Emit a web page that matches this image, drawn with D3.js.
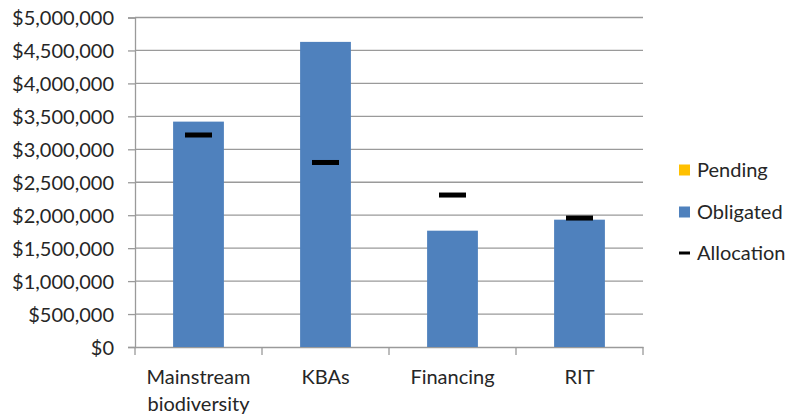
<!DOCTYPE html>
<html><head><meta charset="utf-8">
<script src="https://cdn.jsdelivr.net/npm/d3@7"></script>
<style>body{margin:0;background:#fff}svg{display:block}text{font-family:Lato,"Open Sans",sans-serif;fill:#262626}</style>
</head><body><svg id="c" width="792" height="415"></svg>
<script>
const categories = ["Mainstream biodiversity", "KBAs", "Financing", "RIT"];
const obligated = [3420000, 4630000, 1765000, 1932000];
const pending = [0, 0, 0, 0];
const allocation = [3217000, 2800000, 2306000, 1957000];
const yTicks = [0, 500000, 1000000, 1500000, 2000000, 2500000, 3000000, 3500000, 4000000, 4500000, 5000000];
const legendItems = ["Pending", "Obligated", "Allocation"];

const svg = d3.select("#c");
const L = 135, R = 643, T = 17.5, B = 347;
const FS = "20px";
const x = d3.scaleBand().domain(categories).range([L, R]).padding(0);
const y = d3.scaleLinear().domain([0, 5000000]).range([B, T]);
const fmt = v => "$" + d3.format(",")(v);

// gridlines
svg.append("g").selectAll("line").data(yTicks.slice(1)).join("line")
  .attr("x1", L).attr("x2", R).attr("y1", d => y(d)).attr("y2", d => y(d))
  .attr("stroke", "#9a9a9a").attr("stroke-width", 1.3);

// y axis
const ya = svg.append("g").attr("transform", `translate(${L},0)`)
  .call(d3.axisLeft(y).tickValues(yTicks).tickFormat(fmt).tickSize(7).tickPadding(14));
ya.select(".domain").attr("stroke", "#9a9a9a").attr("stroke-width", 1.3);
ya.selectAll(".tick line").attr("stroke", "#9a9a9a").attr("stroke-width", 1.3);
ya.selectAll("text").style("font-size", FS).attr("fill", "#262626").attr("dy", "0.36em");

// x axis
const xa = svg.append("g").attr("transform", `translate(0,${B})`)
  .call(d3.axisBottom(x).tickSize(0).tickFormat(""));
xa.select(".domain").attr("stroke", "#9a9a9a").attr("stroke-width", 1.3);
svg.append("g").selectAll("line").data(d3.range(categories.length + 1)).join("line")
  .attr("x1", i => L + i * x.step()).attr("x2", i => L + i * x.step())
  .attr("y1", B).attr("y2", B + 8).attr("stroke", "#9a9a9a").attr("stroke-width", 1.3);
const labels = svg.append("g").selectAll("text").data(categories).join("text")
  .attr("x", d => x(d) + x.bandwidth() / 2).attr("y", 384)
  .attr("text-anchor", "middle").style("font-size", FS);
labels.each(function(d) {
  const words = d.split(" ");
  const t = d3.select(this);
  words.forEach((w, i) => t.append("tspan").attr("x", x(d) + x.bandwidth() / 2).attr("dy", i ? 27 : 0).text(w));
});

// bars
const bw = x.bandwidth() * 0.4;
svg.append("g").selectAll("rect").data(categories).join("rect")
  .attr("x", d => x(d) + (x.bandwidth() - bw) / 2)
  .attr("width", bw)
  .attr("y", (d, i) => y(obligated[i]))
  .attr("height", (d, i) => B - y(obligated[i]))
  .attr("fill", "#4f81bd");
svg.append("g").selectAll("rect").data(categories).join("rect")
  .attr("x", d => x(d) + (x.bandwidth() - bw) / 2)
  .attr("width", bw)
  .attr("y", (d, i) => y(obligated[i] + pending[i]))
  .attr("height", (d, i) => y(obligated[i]) - y(obligated[i] + pending[i]))
  .attr("fill", "#ffc000");

// allocation markers
const mw = 27;
svg.append("g").selectAll("rect").data(categories).join("rect")
  .attr("x", d => x(d) + (x.bandwidth() - mw) / 2)
  .attr("width", mw)
  .attr("y", (d, i) => y(allocation[i]) - 2.5)
  .attr("height", 5)
  .attr("fill", "#000");

// legend
const lg = svg.append("g");
const ly = [170, 212, 253];
lg.append("rect").attr("x", 679).attr("y", ly[0] - 5.5).attr("width", 11).attr("height", 11).attr("fill", "#ffc000");
lg.append("rect").attr("x", 679).attr("y", ly[1] - 5.5).attr("width", 11).attr("height", 11).attr("fill", "#4f81bd");
lg.append("rect").attr("x", 679).attr("y", ly[2] - 1.5).attr("width", 11).attr("height", 3).attr("fill", "#000");
lg.selectAll("text").data(legendItems).join("text")
  .attr("x", 697).attr("y", (d, i) => ly[i]).attr("dy", "0.36em")
  .style("font-size", FS).text(d => d);
</script></body></html>
